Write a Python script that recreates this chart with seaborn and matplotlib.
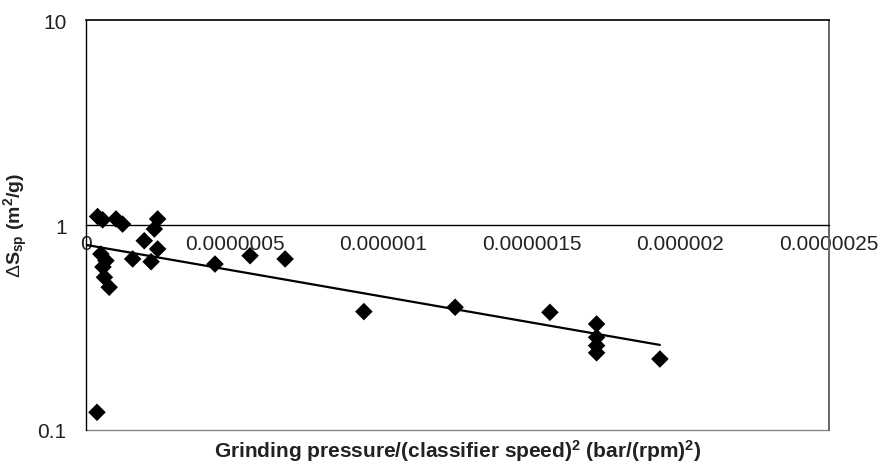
import numpy as np
import pandas as pd
import matplotlib
matplotlib.use("Agg")
import matplotlib.pyplot as plt
from matplotlib.patches import Rectangle
import seaborn as sns

# ---- data ----
x_vals = [3.9e-8, 5.6e-8, 1.01e-7, 1.23e-7, 2.41e-7, 2.30e-7, 1.96e-7, 2.41e-7,
          5.0e-8, 6.7e-8, 5.7e-8, 6.2e-8, 7.8e-8, 1.57e-7, 2.19e-7,
          4.34e-7, 5.52e-7, 6.70e-7, 9.35e-7, 1.242e-6, 1.561e-6,
          1.718e-6, 1.718e-6, 1.718e-6, 1.718e-6, 1.931e-6, 3.7e-8]
y_vals = [1.10, 1.06, 1.07, 1.01, 1.07, 0.956, 0.838, 0.764,
          0.722, 0.670, 0.624, 0.556, 0.497, 0.683, 0.662,
          0.645, 0.708, 0.683, 0.378, 0.397, 0.375,
          0.329, 0.283, 0.258, 0.238, 0.222, 0.122]

# exponential trendline y = a * exp(b * x)
trend_a = 0.80
trend_b = -5.82e5
trend_x = [0.0, 1.931e-6]

x_ticks = [0, 5e-7, 1e-6, 1.5e-6, 2e-6, 2.5e-6]
x_tick_labels = ["0", "0.0000005", "0.000001", "0.0000015", "0.000002", "0.0000025"]
y_ticks = [0.1, 1, 10]
y_tick_labels = ["0.1", "1", "10"]

# ---- style ----
sns.set_style("white")
plt.rcParams["font.family"] = ["Liberation Sans", "DejaVu Sans"]
plt.rcParams["mathtext.fontset"] = "custom"
plt.rcParams["mathtext.rm"] = "Liberation Sans"
plt.rcParams["mathtext.bf"] = "Liberation Sans:bold"
plt.rcParams["mathtext.it"] = "Liberation Sans:italic"

fig = plt.figure(figsize=(8.81, 4.64), dpi=100)
ax = fig.add_axes([86 / 881, 1 - 431 / 464, (829 - 86) / 881, (431 - 21) / 464])

df = pd.DataFrame({"x": x_vals, "y": y_vals})
sns.scatterplot(data=df, x="x", y="y", marker="D", s=80, color="black",
                edgecolor="none", ax=ax, zorder=3)

tx = np.linspace(trend_x[0], trend_x[1], 50)
trend_df = pd.DataFrame({"x": tx, "y": trend_a * np.exp(trend_b * tx)})
sns.lineplot(data=trend_df, x="x", y="y", color="black", linewidth=1.6, ax=ax, zorder=2)

ax.set_yscale("log")
ax.set_ylim(y_ticks[0], y_ticks[-1])
ax.set_xlim(x_ticks[0], x_ticks[-1])

ax.set_xticks(x_ticks)
ax.set_xticklabels(x_tick_labels)
ax.set_yticks(y_ticks)
ax.set_yticklabels(y_tick_labels)
ax.yaxis.set_minor_locator(matplotlib.ticker.NullLocator())
ax.xaxis.set_minor_locator(matplotlib.ticker.NullLocator())

# x axis crosses at y = 1
ax.spines["bottom"].set_position(("data", 1))
ax.spines["bottom"].set_color("black")
ax.spines["bottom"].set_linewidth(1.0)
ax.spines["left"].set_color("black")
ax.spines["left"].set_linewidth(1.0)
ax.spines["top"].set_color("black")
ax.spines["top"].set_linewidth(1.2)
ax.spines["right"].set_color("#666666")
ax.spines["right"].set_linewidth(1.4)
# bottom frame line
ax.add_patch(Rectangle((0, 0), 1, 0.0, transform=ax.transAxes, fill=False,
                       edgecolor="#888888", linewidth=1.0, clip_on=False))

ax.tick_params(axis="x", direction="inout", length=11, width=1, colors="black",
               labelsize=15, pad=1, labelcolor="#222222")
ax.tick_params(axis="y", direction="out", length=7, width=1, colors="black",
               labelsize=15, pad=7, labelcolor="#222222")
ax.grid(False)

ax.set_xlabel(r"Grinding pressure/(classifier speed)$^\mathbf{2}$ (bar/(rpm)$^\mathbf{2}$)",
              fontsize=15, fontweight="bold", color="#222222")
ax.xaxis.label.set_va("baseline")
ax.xaxis.set_label_coords(0.5, -27 / 410)
ax.set_ylabel(r"$\Delta$S$_\mathbf{sp}$ (m$^\mathbf{2}$/g)",
              fontsize=14, fontweight="bold", color="#222222")
ax.yaxis.set_label_coords(-0.075, 0.5)

fig.savefig("out.png", dpi=100)
